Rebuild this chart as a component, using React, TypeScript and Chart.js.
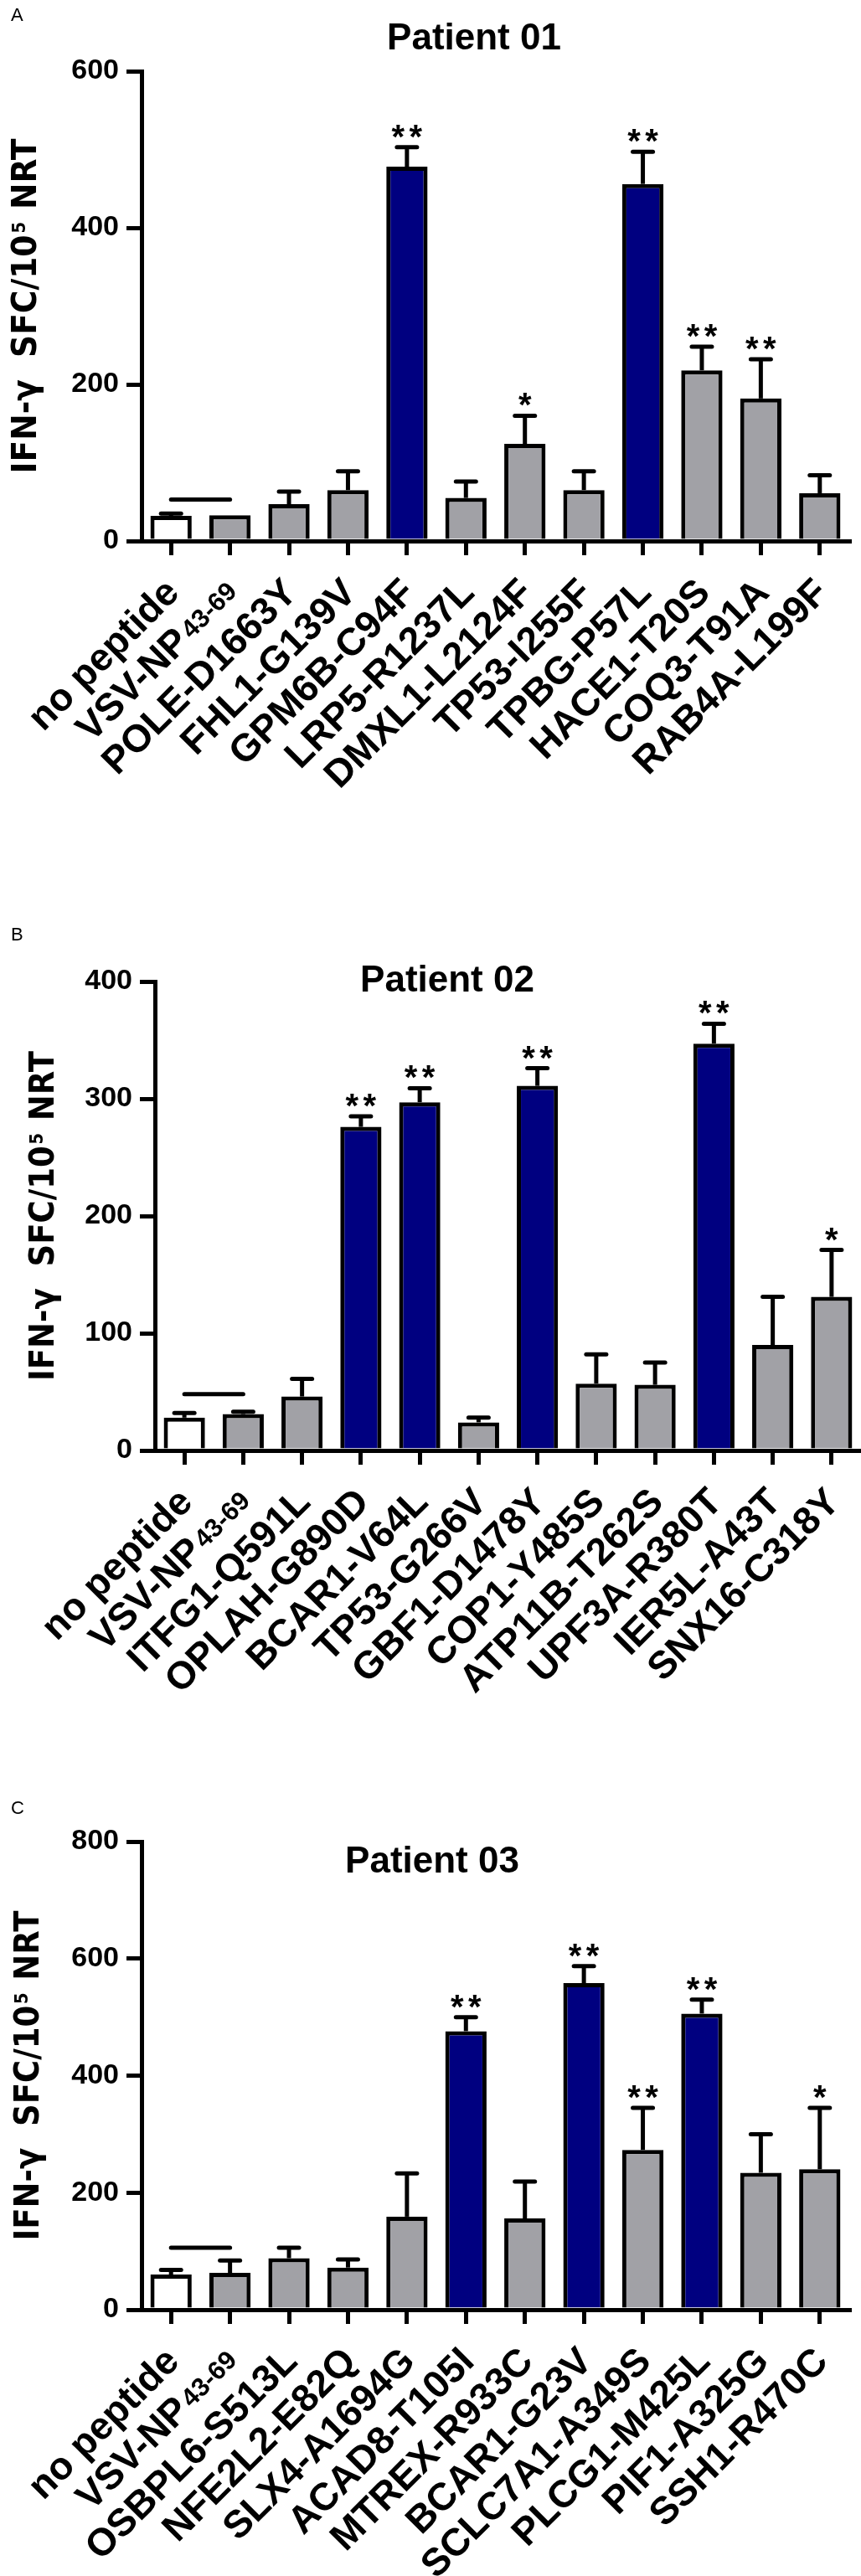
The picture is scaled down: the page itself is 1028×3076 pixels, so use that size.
import React, { useEffect, useRef } from 'react';
import { Chart, registerables } from 'chart.js';

Chart.register(...registerables);

// ---------------- DATA ----------------
const categoriesA = ['no peptide', 'VSV-NP|43-69', 'POLE-D1663Y', 'FHL1-G139V', 'GPM6B-C94F', 'LRP5-R1237L', 'DMXL1-L2124F', 'TP53-I255F', 'TPBG-P57L', 'HACE1-T20S', 'COQ3-T91A', 'RAB4A-L199F'];
const valuesA = [32, 33, 47, 65, 478, 55, 124, 65, 456, 218, 182, 61];
const errorsA = [3, 0, 16, 24, 25, 21, 36, 24, 41, 30, 50, 23];
const sigA = ['', '', '', '', '**', '', '*', '', '**', '**', '**', ''];
const groupA = ['ctrl', 'neg', 'neg', 'neg', 'pos', 'neg', 'neg', 'neg', 'pos', 'neg', 'neg', 'neg'];
const thresholdA = 53;
const yTicksA = [0, 200, 400, 600];

const categoriesB = ['no peptide', 'VSV-NP|43-69', 'ITFG1-Q591L', 'OPLAH-G890D', 'BCAR1-V64L', 'TP53-G266V', 'GBF1-D1478Y', 'COP1-Y485S', 'ATP11B-T262S', 'UPF3A-R380T', 'IER5L-A43T', 'SNX16-C318Y'];
const valuesB = [28, 31, 46, 276, 297, 24, 311, 57, 56, 347, 90, 131];
const errorsB = [4, 2, 15, 9, 12, 4, 15, 25, 19, 17, 41, 40];
const sigB = ['', '', '', '**', '**', '', '**', '', '', '**', '', '*'];
const groupB = ['ctrl', 'neg', 'neg', 'pos', 'pos', 'neg', 'pos', 'neg', 'neg', 'pos', 'neg', 'neg'];
const thresholdB = 48;
const yTicksB = [0, 100, 200, 300, 400];

const categoriesC = ['no peptide', 'VSV-NP|43-69', 'OSBPL6-S513L', 'NFE2L2-E82Q', 'SLX4-A1694G', 'ACAD8-T105I', 'MTREX-R933C', 'BCAR1-G23V', 'SCLC7A1-A349S', 'PLCG1-M425L', 'PIF1-A325G', 'SSH1-R470C'];
const valuesC = [60, 63, 88, 72, 159, 476, 156, 558, 273, 506, 234, 240];
const errorsC = [8, 21, 18, 14, 74, 24, 63, 29, 72, 24, 66, 105];
const sigC = ['', '', '', '', '', '**', '', '**', '**', '**', '', '*'];
const groupC = ['ctrl', 'neg', 'neg', 'neg', 'neg', 'pos', 'neg', 'pos', 'neg', 'pos', 'neg', 'neg'];
const thresholdC = 106;
const yTicksC = [0, 200, 400, 600, 800];

const panelLetters = ['A', 'B', 'C'];
const panelTitles = ['Patient 01', 'Patient 02', 'Patient 03'];
const yAxisTitle = ['IFN-\u03b3  SFC/10', '5', ' NRT'];

// ---------------- STYLE ----------------
const FONT = "'Liberation Sans', Arial, Helvetica, sans-serif";
const WIDE = "'DejaVu Sans', Verdana, sans-serif";
const NARROW = "'Liberation Sans Narrow', 'Liberation Sans', Arial, sans-serif";
const COLORS: Record<string, string> = { ctrl: '#ffffff', neg: '#a1a1a6', pos: '#000080' };

type PanelCfg = {
  top: number;
  height: number;
  padTop: number;
  padRight: number;
  yWidth: number;
  xHeight: number;
  titleX: number;
  titleBase: number;
  letterBase: number;
  yTitleX: number;
  yTitleLen: number;
};

const decorPlugin = {
  id: 'decor',
  afterDatasetsDraw(chart: any, _a: any, o: any) {
    const ctx = chart.ctx as CanvasRenderingContext2D;
    const xs = chart.scales.x;
    const ys = chart.scales.y;
    ctx.save();
    ctx.strokeStyle = '#000';
    ctx.fillStyle = '#000';
    ctx.lineWidth = 5;
    o.values.forEach((v: number, i: number) => {
      const e = o.errors[i];
      const cx = xs.getPixelForValue(i);
      const yTop = ys.getPixelForValue(v);
      const yErr = ys.getPixelForValue(v + e);
      if (e > 0) {
        ctx.lineCap = 'butt';
        ctx.beginPath();
        ctx.moveTo(cx, yTop);
        ctx.lineTo(cx, yErr);
        ctx.stroke();
        ctx.lineCap = 'round';
        ctx.beginPath();
        ctx.moveTo(cx - 12, yErr);
        ctx.lineTo(cx + 12, yErr);
        ctx.stroke();
      }
      const s: string = o.sig[i];
      if (s) {
        ctx.font = `bold 40px ${FONT}`;
        ctx.textAlign = 'center';
        ctx.textBaseline = 'alphabetic';
        const m = ctx.measureText('*');
        const base = yErr - 11 - m.actualBoundingBoxDescent;
        const n = s.length;
        for (let k = 0; k < n; k++) {
          ctx.fillText('*', cx + (k - (n - 1) / 2) * 21, base);
        }
      }
    });
    ctx.restore();
  },
  afterDraw(chart: any, _a: any, o: any) {
    const ctx = chart.ctx as CanvasRenderingContext2D;
    const xs = chart.scales.x;
    const area = chart.chartArea;
    ctx.save();
    ctx.fillStyle = '#000';
    // x labels
    o.labels.forEach((lab: string, i: number) => {
      const cx = xs.getPixelForValue(i);
      const parts = lab.split('|');
      ctx.save();
      ctx.translate(cx + 12, area.bottom + 64);
      ctx.rotate(-Math.PI / 4);
      ctx.textBaseline = 'alphabetic';
      ctx.textAlign = 'left';
      ctx.font = `bold 46px ${FONT}`;
      const w0 = ctx.measureText(parts[0]).width;
      let w1 = 0;
      if (parts[1]) {
        ctx.font = `bold 31px ${FONT}`;
        w1 = ctx.measureText(parts[1]).width + 3;
      }
      ctx.font = `bold 46px ${FONT}`;
      ctx.fillText(parts[0], -(w0 + w1), 0);
      if (parts[1]) {
        ctx.font = `bold 31px ${FONT}`;
        ctx.fillText(parts[1], -w1 + 3, -3);
      }
      ctx.restore();
    });
    // y axis title (stretched to the reference length)
    const cy = (area.top + area.bottom) / 2;
    ctx.save();
    ctx.translate(o.yTitleX, cy);
    ctx.rotate(-Math.PI / 2);
    ctx.textAlign = 'left';
    ctx.textBaseline = 'alphabetic';
    const big = `bold 40px ${WIDE}`;
    const small = `bold 21px ${WIDE}`;
    ctx.font = big;
    const a0 = ctx.measureText(yAxisTitle[0]).width;
    const a2 = ctx.measureText(yAxisTitle[2]).width;
    ctx.font = small;
    const a1 = ctx.measureText(yAxisTitle[1]).width + 4;
    const total = a0 + a1 + a2;
    const k = o.yTitleLen / total;
    ctx.scale(k, 1);
    let px = -total / 2;
    ctx.font = big;
    ctx.fillText(yAxisTitle[0], px, 0);
    px += a0 + 2;
    ctx.font = small;
    ctx.fillText(yAxisTitle[1], px, -13);
    px += a1 - 2;
    ctx.font = big;
    ctx.fillText(yAxisTitle[2], px, 0);
    ctx.restore();
    // title
    ctx.font = `bold 44px ${FONT}`;
    ctx.textAlign = 'center';
    ctx.textBaseline = 'alphabetic';
    ctx.fillText(o.title, o.titleX, o.titleBase);
    // panel letter
    ctx.font = `22px ${NARROW}`;
    ctx.textAlign = 'left';
    ctx.fillText(o.letter, 13, o.letterBase);
    ctx.restore();
  },
};

function buildChart(
  canvas: HTMLCanvasElement,
  cfg: PanelCfg,
  labels: string[],
  values: number[],
  errors: number[],
  sig: string[],
  group: string[],
  threshold: number,
  yTicks: number[],
  letter: string,
  title: string
) {
  const yMax = yTicks[yTicks.length - 1];
  const step = yTicks[1] - yTicks[0];
  const thresholdData = labels.map((_, i) => (i < 2 ? threshold : null));
  return new Chart(canvas, {
    type: 'bar',
    data: {
      labels: labels.map((l) => l.replace('|', '')),
      datasets: [
        {
          type: 'bar',
          data: values,
          backgroundColor: group.map((g) => COLORS[g]),
          borderColor: '#000',
          borderWidth: 5,
          barPercentage: 0.7,
          categoryPercentage: 1,
          order: 2,
        } as any,
        {
          type: 'line',
          data: thresholdData,
          borderColor: '#000',
          borderWidth: 5,
          borderCapStyle: 'round',
          pointRadius: 0,
          fill: false,
          order: 1,
        } as any,
      ],
    },
    options: {
      responsive: false,
      animation: false,
      devicePixelRatio: 1,
      layout: { padding: { left: 0, right: cfg.padRight, top: cfg.padTop, bottom: 0 } },
      plugins: {
        legend: { display: false },
        tooltip: { enabled: false },
        title: { display: false },
        decor: {
          values,
          errors,
          sig,
          labels,
          title,
          letter,
          titleX: cfg.titleX,
          titleBase: cfg.titleBase,
          letterBase: cfg.letterBase,
          yTitleX: cfg.yTitleX,
          yTitleLen: cfg.yTitleLen,
        },
      } as any,
      scales: {
        x: {
          type: 'category',
          offset: true,
          grid: {
            display: true,
            drawOnChartArea: false,
            drawTicks: true,
            tickLength: 17,
            offset: false,
            lineWidth: 5,
            color: '#000',
          },
          border: { display: true, width: 5, color: '#000' },
          ticks: { display: false },
          afterFit: (s: any) => {
            s.height = cfg.xHeight;
          },
        },
        y: {
          min: 0,
          max: yMax,
          ticks: {
            stepSize: step,
            color: '#000',
            padding: 9,
            font: { family: FONT, weight: 'bold', size: 34 },
          },
          grid: {
            display: true,
            drawOnChartArea: false,
            drawTicks: true,
            tickLength: 18,
            lineWidth: 5,
            color: '#000',
          },
          border: { display: true, width: 5, color: '#000' },
          afterFit: (s: any) => {
            s.width = cfg.yWidth;
          },
        },
      } as any,
    },
    plugins: [decorPlugin as any],
  });
}

const cfgA: PanelCfg = { top: 0, height: 1000, padTop: 85, padRight: 14, yWidth: 169, xHeight: 354, titleX: 566, titleBase: 59, letterBase: 25, yTitleX: 43, yTitleLen: 400 };
const cfgB: PanelCfg = { top: 1000, height: 1100, padTop: 172, padRight: 0, yWidth: 185, xHeight: 368, titleX: 534, titleBase: 184, letterBase: 123, yTitleX: 64, yTitleLen: 394 };
const cfgC: PanelCfg = { top: 2100, height: 976, padTop: 99, padRight: 14, yWidth: 169, xHeight: 318, titleX: 516, titleBase: 136, letterBase: 66, yTitleX: 46, yTitleLen: 394 };

export default function App() {
  const refA = useRef<HTMLCanvasElement>(null);
  const refB = useRef<HTMLCanvasElement>(null);
  const refC = useRef<HTMLCanvasElement>(null);

  useEffect(() => {
    const charts: Chart[] = [];
    if (refA.current)
      charts.push(buildChart(refA.current, cfgA, categoriesA, valuesA, errorsA, sigA, groupA, thresholdA, yTicksA, panelLetters[0], panelTitles[0]));
    if (refB.current)
      charts.push(buildChart(refB.current, cfgB, categoriesB, valuesB, errorsB, sigB, groupB, thresholdB, yTicksB, panelLetters[1], panelTitles[1]));
    if (refC.current)
      charts.push(buildChart(refC.current, cfgC, categoriesC, valuesC, errorsC, sigC, groupC, thresholdC, yTicksC, panelLetters[2], panelTitles[2]));
    return () => charts.forEach((c) => c.destroy());
  }, []);

  const cs = (c: PanelCfg): React.CSSProperties => ({
    position: 'absolute',
    left: 0,
    top: c.top,
    width: 1028,
    height: c.height,
    display: 'block',
  });

  return (
    <div style={{ position: 'absolute', left: 0, top: 0, width: 1028, height: 3076, background: '#fff', overflow: 'hidden' }}>
      <canvas ref={refA} width={1028} height={cfgA.height} style={cs(cfgA)} />
      <canvas ref={refB} width={1028} height={cfgB.height} style={cs(cfgB)} />
      <canvas ref={refC} width={1028} height={cfgC.height} style={cs(cfgC)} />
    </div>
  );
}
